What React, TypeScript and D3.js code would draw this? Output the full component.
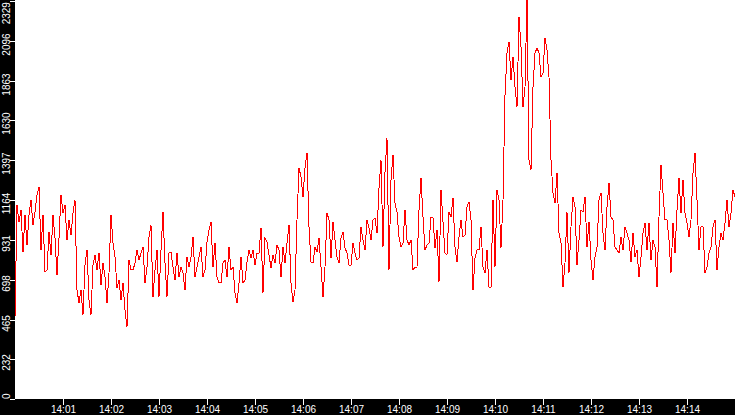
import React, { useEffect, useRef } from "react";
import * as d3 from "d3";

// one sample every 2.5 s, 14:00:00 -> 14:15:00 (361 samples)
const rateA = [480,1135,1036,1106,860,1077,901,1077,1165,1018,1094,1194,1241,872,1077,743,755,977,843,1077,942,726,942,1194,1088,1135,930,1048,960,1088,1165,638,562,638,492,784,872,579,492,784,843];
const rateB = [755,854,667,796,714,562,737,1077,913,831,650,696,579,679,521,421,813,755,755,796,872,813,854,889,679,772,948,1018,597,755,872,597,872,1094,796,597,854,860,772,696,854,714,772,737,638,831,772,831,948,714,772,831,889,714,755,919,989,1036,772,913,714,679,679,796,813,714,889,755,772,620,562,679,831,679,696,802,872];
const rateC = [825,872,784,854,854,1001,620,942,919,843,767,843,796,901,872,714,889,796,913,1018,679,568,638,1048,1352,1299,1182,1352,1440,1007,802,796,889,860,942,772,597,772,1088,1048,825,1036,930,831,796,942,977,884,854,784,784,913,854,813,825,1007,930,872,1048,1001];
const rateD = [930,1048,1059,971,1235,1399,889,1328,1527,755,1282,1428,1147,1094,948,889,913,1106,930,901,930,755,772,772,1106,1293,1065,872,901,913,1065,1059,884,989,685,1223,1036,854,843,1094,1065,1176,889,802,948,1048,948,960,1124,1153,1048,638,825,872,872,1007,772,737,872,655];
const rateE = [655,1165,772,1223,1165,884,1165,1779,2025,2089,1867,2001,1826,1709,2235,2060,1709,1826,2340,1399,1340,1826,2025,2054,2025,1884,1908,2113,2042,1884,1399,1206,1147,1323,971,913,655,796];
const rateF = [1094,737,1007,1182,1124,784,930,1106,1094,1182,889,1036,813,696,831,889,1165,1206,971,872,1124,1264,1065,1048,889,872,854,948,872,1007,971,930,802,971,831,872,714,831,971,1030,872,1030];
const rateG = [813,930,889,655,1065,1369,1206,1048,1048,930,737,1030,854,1106,1293,1088,1282,1088,1030,948,1048,1323,1440,1165,872,1007,1007,737,772,854,889,1007,1048,755,889,971,930,1030,1165,1007,1088,1223,1182];

const sampleStep = 2.5; // seconds
const startTime = "14:00:00";
const endTime = "14:15:00";

const xTickLabels = ["14:01","14:02","14:03","14:04","14:05","14:06","14:07","14:08","14:09","14:10","14:11","14:12","14:13","14:14"];
const yTickValues = [0, 232, 465, 698, 931, 1164, 1397, 1630, 1863, 2096, 2329];
const yMax = 2329;

const W = 735;
const H = 415;

export default function App() {
    const svgRef = useRef<SVGSVGElement | null>(null);

    const drawChart = () => {
        if (!svgRef.current) return;
        d3.select(svgRef.current).selectAll("*").remove();

        const margin = { top: 1, right: 0, bottom: 16, left: 15 };
        const plotBottom = H - margin.bottom; // 399

        const svg = d3.select(svgRef.current)
            .attr("width", W)
            .attr("height", H);

        const parseClock = d3.timeParse("%H:%M:%S");
        const parseTick = d3.timeParse("%H:%M");
        const t0 = parseClock(startTime) as Date;
        const t1 = parseClock(endTime) as Date;

        const values = [...rateA, ...rateB, ...rateC, ...rateD, ...rateE, ...rateF, ...rateG];
        const data = values.map((v, i) => ({
            t: new Date(t0.getTime() + i * sampleStep * 1000),
            v,
        }));

        const x = d3.scaleTime().domain([t0, t1]).range([margin.left, W]);
        const y = d3.scaleLinear().domain([0, yMax]).range([plotBottom, margin.top]);

        // frame: black strips on the left and bottom
        svg.append("rect").attr("x", 0).attr("y", 0).attr("width", W).attr("height", H).attr("fill", "#000");
        svg.append("rect")
            .attr("x", margin.left).attr("y", 0)
            .attr("width", W - margin.left).attr("height", plotBottom)
            .attr("fill", "#fff");

        svg.append("clipPath").attr("id", "plot-clip")
            .append("rect")
            .attr("x", margin.left).attr("y", 0)
            .attr("width", W - margin.left).attr("height", plotBottom);

        const line = d3.line<{ t: Date; v: number }>()
            .x(d => x(d.t))
            .y(d => y(d.v));

        svg.append("path")
            .datum(data)
            .attr("clip-path", "url(#plot-clip)")
            .attr("d", line)
            .attr("fill", "none")
            .attr("stroke", "#ff0000")
            .attr("stroke-width", 1)
            .attr("shape-rendering", "crispEdges");

        // y axis (rotated labels in the left strip)
        const yAxis = svg.append("g");
        yTickValues.forEach(v => {
            const py = Math.round(y(v)) + 0.5;
            yAxis.append("line")
                .attr("x1", 10).attr("x2", margin.left)
                .attr("y1", py).attr("y2", py)
                .attr("stroke", "#fff")
                .attr("shape-rendering", "crispEdges");

            const label = String(v);
            const half = label.length * 2.8;
            const cy = Math.max(half + 2, Math.min(plotBottom - half, py + 3));
            yAxis.append("text")
                .attr("transform", `translate(10,${cy}) rotate(-90)`)
                .attr("text-anchor", "middle")
                .attr("fill", "#fff")
                .style("font-family", "'Liberation Sans', Arial, sans-serif")
                .style("font-size", "10px")
                .text(label);
        });

        // time axis in the bottom strip
        const xAxis = svg.append("g");
        xTickLabels.forEach(lbl => {
            const tt = parseTick(lbl) as Date;
            const px = Math.round(x(tt)) + 0.5;
            xAxis.append("line")
                .attr("x1", px).attr("x2", px)
                .attr("y1", plotBottom).attr("y2", plotBottom + 6)
                .attr("stroke", "#fff")
                .attr("shape-rendering", "crispEdges");
            xAxis.append("text")
                .attr("x", px)
                .attr("y", 413)
                .attr("text-anchor", "middle")
                .attr("fill", "#fff")
                .style("font-family", "'Liberation Sans', Arial, sans-serif")
                .style("font-size", "10px")
                .text(lbl);
        });
    };

    useEffect(() => {
        drawChart();
    }, []);

    return (
        <div style={{ position: "absolute", left: 0, top: 0, width: W, height: H }}>
            <svg ref={svgRef} style={{ display: "block" }} />
        </div>
    );
}
